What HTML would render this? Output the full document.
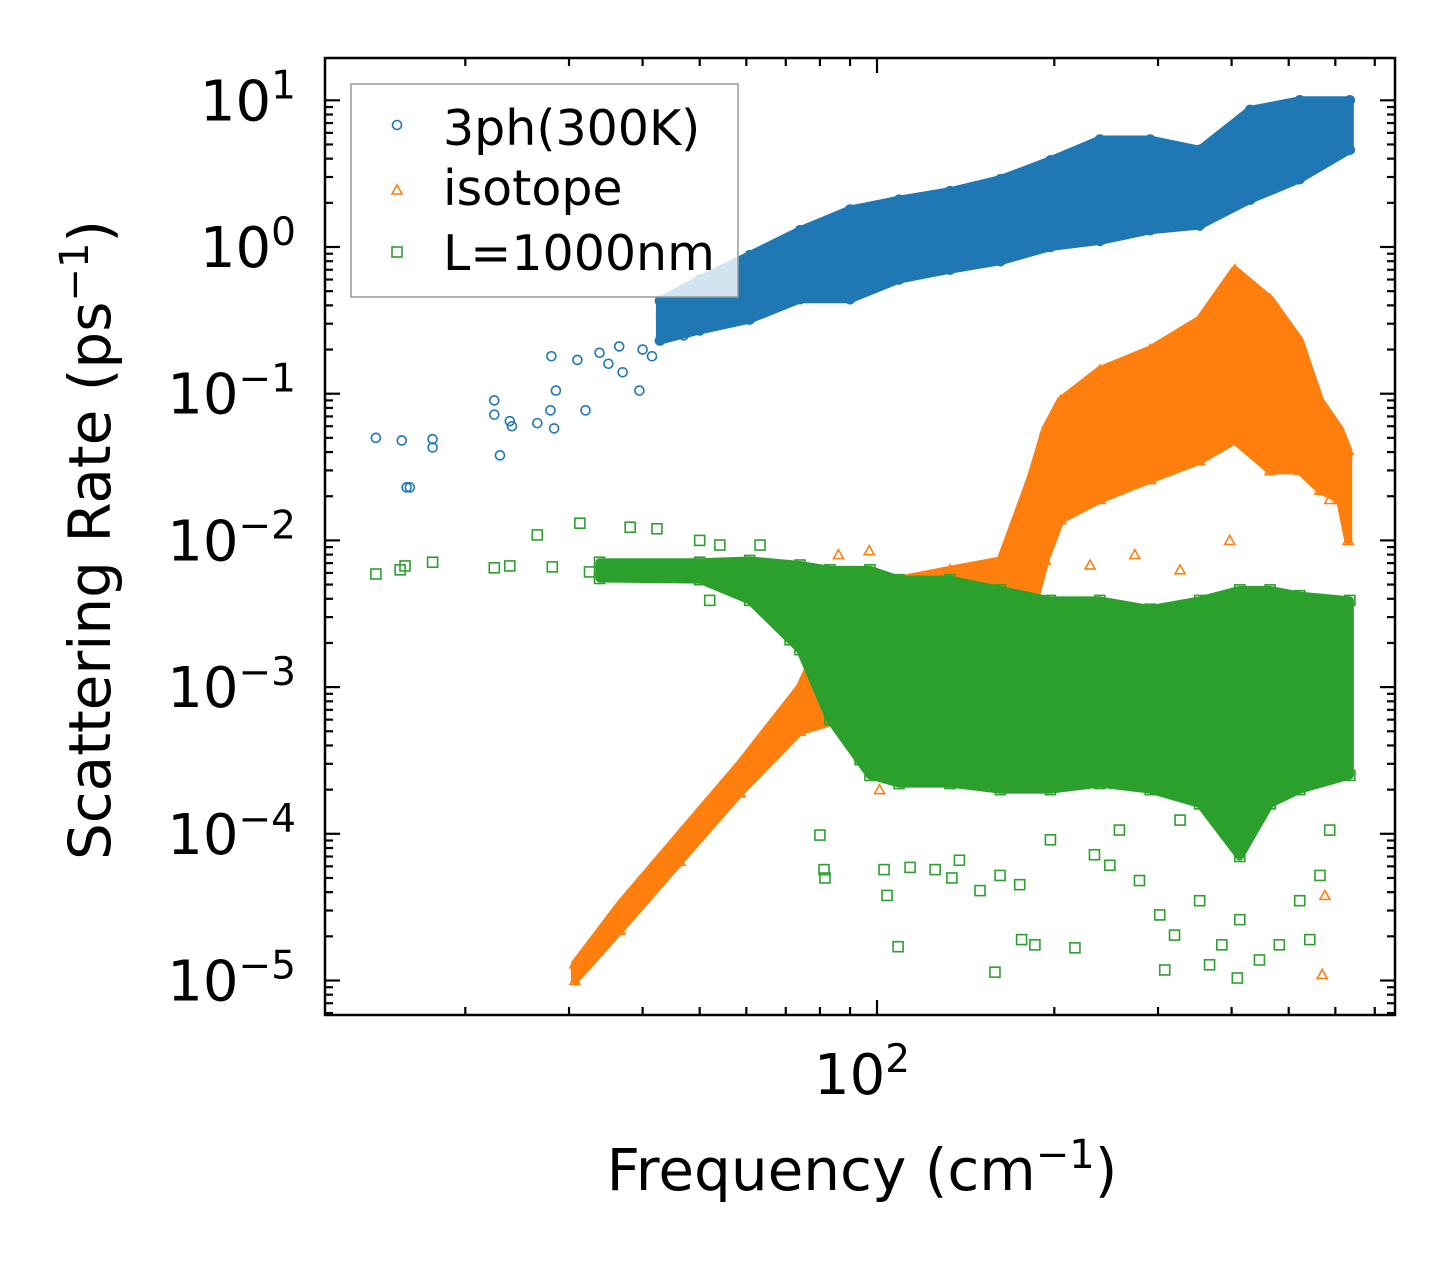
<!DOCTYPE html>
<html><head><meta charset="utf-8">
<style>
html,body{margin:0;padding:0;background:#fff;}
svg{display:block;font-family:"DejaVu Sans","Liberation Sans",sans-serif;}
</style></head>
<body>
<svg id="chart" width="1455" height="1265" viewBox="0 0 1455 1265" xmlns="http://www.w3.org/2000/svg">
<defs><clipPath id="plotclip"><rect x="325" y="58" width="1070" height="957"/></clipPath></defs>
<rect x="0" y="0" width="1455" height="1265" fill="#fff"/>
<g id="bands" clip-path="url(#plotclip)"></g>
<g id="ticks"></g>
<rect x="325" y="58" width="1070" height="957" fill="none" stroke="#000" stroke-width="2.5"/>
<g id="ylabels" font-size="56" fill="#000"></g>
<text x="862" y="1094" font-size="56" text-anchor="middle">10<tspan dy="-22" font-size="39">2</tspan></text>
<text x="862" y="1190" font-size="58" text-anchor="middle">Frequency (cm<tspan dy="-22" font-size="40">−1</tspan><tspan dy="22">)</tspan></text>
<text transform="translate(110,540) rotate(-90)" font-size="58" text-anchor="middle">Scattering Rate (ps<tspan dy="-22" font-size="40">−1</tspan><tspan dy="22">)</tspan></text>
<g>
<rect x="351" y="84" width="387" height="213" fill="#fff" fill-opacity="0.8" stroke="#999" stroke-width="1.5"/>
<circle cx="397" cy="125" r="4.5" fill="none" stroke="#1f77b4" stroke-width="1.6"/>
<text x="443" y="145" font-size="49">3ph(300K)</text>
<polygon points="397,185 402,194 392,194" fill="none" stroke="#ff7f0e" stroke-width="1.6"/>
<text x="443" y="205" font-size="49">isotope</text>
<rect x="392" y="247" width="10" height="10" fill="none" stroke="#2ca02c" stroke-width="1.6"/>
<text x="443" y="270" font-size="49">L=1000nm</text>
</g>
</svg>
<script>
// ---- data (frequency cm^-1, rate ps^-1) ----
const blueFreq = [14.1,15.6,15.9,16.1,17.6,17.6,22.4,22.4,22.9,23.8,24,26.5,27.9,28.3,28.5,28,31,32,33.8,35,37,36.5,39.5,41.5,43,40,45,47,49,52,55];
const blueRate = [0.05,0.048,0.023,0.023,0.049,0.043,0.09,0.072,0.038,0.065,0.06,0.063,0.077,0.058,0.105,0.18,0.17,0.077,0.19,0.16,0.14,0.21,0.105,0.18,0.35,0.2,0.3,0.25,0.4,0.45,0.35];
const blueBandFreq = [42.8,50,60.8,74,90,109,133,162,197,239,291,353,430,522,635];
const blueBandLo = [0.23,0.27,0.32,0.44,0.44,0.6,0.7,0.8,1.0,1.1,1.3,1.4,2.1,2.9,4.6];
const blueBandHi = [0.43,0.6,0.88,1.3,1.8,2.1,2.4,2.9,3.9,5.4,5.4,4.6,8.6,10,10];

const orangeBandFreq = [30.7,36.6,46.3,58.5,74,86.5,109,133,162,182,193,205,239,291,353,405,465,522,565,611,631];
const orangeBandLo = [1.0e-5,2.2e-5,6.5e-5,1.9e-4,5e-4,6e-4,3.2e-4,4.4e-4,8.2e-4,2.9e-3,7.3e-3,0.0138,0.019,0.026,0.035,0.048,0.03,0.03,0.022,0.019,0.01];
const orangeBandHi = [1.3e-5,3.3e-5,1.0e-4,3e-4,1e-3,3.9e-3,5.4e-3,6.3e-3,7.3e-3,0.026,0.057,0.09,0.145,0.2,0.32,0.7,0.44,0.23,0.09,0.057,0.041];
const orangeFreq = [576,570,622,274,327,230,397,587,93.6,101,119,162,86,97,125];
const orangeRate = [3.8e-5,1.1e-5,3e-4,8e-3,6.3e-3,6.8e-3,0.01,0.019,4e-4,2e-4,2.8e-4,2.8e-4,8e-3,8.5e-3,5e-3];

const greenBandFreq = [33.8,50,60.8,74,83.2,97.3,109,133,162,197,239,291,353,413,465,522,635];
const greenBandLo = [5.5e-3,5.4e-3,3.9e-3,1.8e-3,6e-4,2.5e-4,2.2e-4,2.2e-4,2e-4,2e-4,2.2e-4,2e-4,1.6e-4,7e-5,1.6e-4,2e-4,2.5e-4];
const greenBandHi = [7.1e-3,7.1e-3,7.3e-3,6.8e-3,6.3e-3,6.3e-3,5.4e-3,5.4e-3,4.6e-3,3.9e-3,3.9e-3,3.4e-3,3.9e-3,4.6e-3,4.6e-3,4.2e-3,3.9e-3];
const greenFreq = [80,81.3,81.6,102.8,104,108.6,113.8,125.5,134,138,149.6,161.8,174.7,176,185.4,158.6,216.8,234,248.5,279,302,308,320,353,367,385,409,413,446,482,522,543,565,587,622,197,258,327,93.6,97.3,86.5,90,71.2,65.8,14.1,15.5,15.8,17.6,22.4,23.8,26.5,28.1,31.3,32.5,35.2,38.1,42.3,39.6,46.3,50,54.1,63.3,52];
const greenRate = [9.8e-5,5.7e-5,5e-5,5.7e-5,3.8e-5,1.7e-5,5.9e-5,5.7e-5,5e-5,6.6e-5,4.1e-5,5.2e-5,4.5e-5,1.9e-5,1.75e-5,1.14e-5,1.67e-5,7.2e-5,6.1e-5,4.8e-5,2.8e-5,1.18e-5,2.04e-5,3.5e-5,1.28e-5,1.75e-5,1.04e-5,2.6e-5,1.38e-5,1.75e-5,3.5e-5,1.9e-5,5.2e-5,1.06e-4,4.4e-4,9.1e-5,1.06e-4,1.24e-4,3.2e-4,6e-4,9.5e-4,1.8e-3,2.1e-3,3.4e-3,5.9e-3,6.3e-3,6.7e-3,7.1e-3,6.5e-3,6.7e-3,0.0109,6.6e-3,0.0131,6.1e-3,6.3e-3,0.0123,0.012,6.5e-3,6e-3,0.01,9.3e-3,9.3e-3,3.9e-3];

const yTickExps = [1,0,-1,-2,-3,-4,-5];

// ---- axes ----
const X0=877, XDEC=589, Y0=247, YDEC=146.7;
function xs(f){return X0+(Math.log10(f)-2)*XDEC;}
function ys(r){return Y0-Math.log10(r)*YDEC;}
const NS="http://www.w3.org/2000/svg";
function mk(tag,attrs,parent){const e=document.createElementNS(NS,tag);for(const k in attrs)e.setAttribute(k,attrs[k]);parent.appendChild(e);return e;}
const bands=document.getElementById('bands');
const ticks=document.getElementById('ticks');
const ylabels=document.getElementById('ylabels');

function band(fr,lo,hi,color,name){
  const pts=[];
  for(let i=0;i<fr.length;i++)pts.push(xs(fr[i])+','+ys(hi[i]));
  for(let i=fr.length-1;i>=0;i--)pts.push(xs(fr[i])+','+ys(lo[i]));
  const p=mk('polygon',{points:pts.join(' '),fill:color,stroke:color,'stroke-width':8,'stroke-linejoin':'round'},bands);
  
  
}
function marker(type,f,r,color,name){
  const x=xs(f),y=ys(r);let e;
  if(type==='c')e=mk('circle',{cx:x,cy:y,r:4.5,fill:'none',stroke:color,'stroke-width':1.6},bands);
  else if(type==='t')e=mk('polygon',{points:`${x},${y-5} ${x+5},${y+4} ${x-5},${y+4}`,fill:'none',stroke:color,'stroke-width':1.6},bands);
  else e=mk('rect',{x:x-5,y:y-5,width:10,height:10,fill:'none',stroke:color,'stroke-width':1.6},bands);
  
  
}
function edgeMarkers(type,fr,lo,hi,color,name){
  for(let i=0;i<fr.length;i++){marker(type,fr[i],lo[i],color,name);marker(type,fr[i],hi[i],color,name);}
}
band(blueBandFreq,blueBandLo,blueBandHi,'#1f77b4','3ph-dense-band');
edgeMarkers('c',blueBandFreq,blueBandLo,blueBandHi,'#1f77b4','3ph-point');
for(let i=0;i<blueFreq.length;i++)marker('c',blueFreq[i],blueRate[i],'#1f77b4','3ph-point');
band(orangeBandFreq,orangeBandLo,orangeBandHi,'#ff7f0e','isotope-dense-band');
edgeMarkers('t',orangeBandFreq,orangeBandLo,orangeBandHi,'#ff7f0e','isotope-point');
for(let i=0;i<orangeFreq.length;i++)marker('t',orangeFreq[i],orangeRate[i],'#ff7f0e','isotope-point');
band(greenBandFreq,greenBandLo,greenBandHi,'#2ca02c','boundary-dense-band');
edgeMarkers('s',greenBandFreq,greenBandLo,greenBandHi,'#2ca02c','boundary-point');
for(let i=0;i<greenFreq.length;i++)marker('s',greenFreq[i],greenRate[i],'#2ca02c','boundary-point');

const L=325,R=1395,T=58,B=1015;
function tk(x1,y1,x2,y2){mk('line',{x1,y1,x2,y2,stroke:'#000','stroke-width':2.2},ticks);}
for(let d=1;d<=2;d++){
  for(let m=1;m<=9;m++){
    const x=xs(m*Math.pow(10,d));
    if(x<L||x>R)continue;
    const len=(m===1)?15:8;
    tk(x,B,x,B-len);tk(x,T,x,T+len);
  }
}
for(let d=-6;d<=1;d++){
  for(let m=1;m<=9;m++){
    const y=ys(m*Math.pow(10,d));
    if(y<T||y>B)continue;
    const len=(m===1)?15:8;
    tk(L,y,L+len,y);tk(R,y,R-len,y);
  }
}
yTickExps.forEach(e=>{
  const t=mk('text',{x:296,y:ys(Math.pow(10,e))+20,'text-anchor':'end'},ylabels);
  
  
  t.appendChild(document.createTextNode('10'));
  const s=mk('tspan',{dy:-22,'font-size':39},t);
  s.textContent=(e<0?'−':'')+Math.abs(e);
});
</script>
</body></html>
